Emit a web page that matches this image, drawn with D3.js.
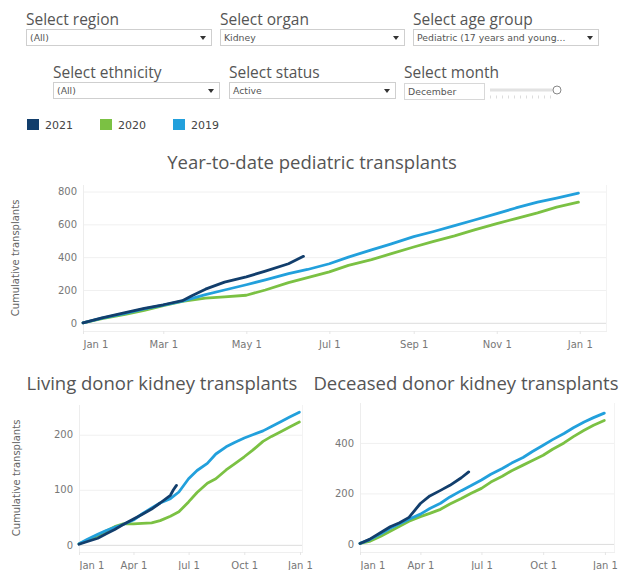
<!DOCTYPE html>
<html>
<head>
<meta charset="utf-8">
<script src="https://cdn.jsdelivr.net/npm/d3@7"></script>
<style>
  body { margin: 0; background: #fff; }
  svg { display: block; }
</style>
</head>
<body>
<svg width="619" height="570"></svg>
<script>
const years = ['2021', '2020', '2019']
const colors = { '2021': '#123e6c', '2020': '#7bc143', '2019': '#22a0dc' }

// [month-day, cumulative count]
const total2021 = [['01-01', 0], ['01-15', 30], ['02-01', 62], ['02-15', 88], ['03-01', 110], ['03-15', 135], ['03-22', 165], ['04-01', 205], ['04-15', 248], ['05-01', 280], ['05-15', 315], ['06-01', 360], ['06-12', 405]]
const total2020 = [['01-01', 0], ['01-15', 25], ['02-01', 52], ['02-15', 75], ['03-01', 105], ['03-15', 130], ['04-01', 150], ['04-15', 158], ['05-01', 168], ['05-15', 200], ['06-01', 245], ['06-15', 275], ['07-01', 310], ['07-15', 350], ['08-01', 385], ['08-15', 420], ['09-01', 462], ['09-15', 495], ['10-01', 530], ['10-15', 565], ['11-01', 605], ['11-15', 635], ['12-01', 670], ['12-15', 705], ['12-31', 735]]
const total2019 = [['01-01', 0], ['01-15', 28], ['02-01', 58], ['02-15', 85], ['03-01', 108], ['03-15', 132], ['04-01', 172], ['04-15', 200], ['05-01', 232], ['05-15', 262], ['06-01', 300], ['06-15', 325], ['07-01', 360], ['07-15', 400], ['08-01', 445], ['08-15', 480], ['09-01', 525], ['09-15', 555], ['10-01', 592], ['10-15', 625], ['11-01', 665], ['11-15', 700], ['12-01', 735], ['12-15', 760], ['12-31', 790]]

const living2021 = [['01-01', 1], ['01-15', 6], ['02-01', 12], ['02-15', 20], ['03-01', 28], ['03-15', 37], ['04-01', 47], ['04-15', 55], ['05-01', 65], ['05-15', 76], ['06-01', 90], ['06-06', 100], ['06-11', 108]]
const living2020 = [['01-01', 2], ['01-15', 8], ['02-01', 17], ['02-15', 25], ['03-01', 33], ['03-15', 38], ['04-01', 38], ['04-15', 39], ['05-01', 40], ['05-15', 44], ['06-01', 52], ['06-15', 60], ['07-01', 78], ['07-15', 95], ['08-01', 112], ['08-15', 120], ['09-01', 136], ['09-15', 147], ['10-01', 160], ['10-15', 172], ['11-01', 188], ['11-15', 197], ['12-01', 206], ['12-15', 214], ['12-31', 223]]
const living2019 = [['01-01', 2], ['01-15', 10], ['02-01', 19], ['02-15', 26], ['03-01', 32], ['03-15', 37], ['04-01', 45], ['04-15', 56], ['05-01', 67], ['05-15', 76], ['06-01', 84], ['06-15', 96], ['07-01', 120], ['07-15', 135], ['08-01', 148], ['08-15', 165], ['09-01', 178], ['09-15', 186], ['10-01', 194], ['10-15', 200], ['11-01', 207], ['11-15', 215], ['12-01', 224], ['12-15', 232], ['12-31', 241]]

const deceased2021 = [['01-01', 2], ['01-15', 18], ['02-01', 45], ['02-15', 68], ['03-01', 84], ['03-15', 105], ['04-01', 160], ['04-15', 190], ['05-01', 212], ['05-15', 232], ['06-01', 262], ['06-12', 285]]
const deceased2020 = [['01-01', 2], ['01-15', 10], ['02-01', 30], ['02-15', 50], ['03-01', 70], ['03-15', 90], ['04-01', 108], ['04-15', 121], ['05-01', 137], ['05-15', 158], ['06-01', 180], ['06-15', 200], ['07-01', 220], ['07-15', 245], ['08-01', 268], ['08-15', 290], ['09-01', 312], ['09-15', 330], ['10-01', 351], ['10-15', 375], ['11-01', 400], ['11-15', 425], ['12-01', 450], ['12-15', 470], ['12-31', 489]]
const deceased2019 = [['01-01', 2], ['01-15', 16], ['02-01', 40], ['02-15', 62], ['03-01', 80], ['03-15', 98], ['04-01', 118], ['04-15', 140], ['05-01', 161], ['05-15', 186], ['06-01', 211], ['06-15', 230], ['07-01', 253], ['07-15', 276], ['08-01', 299], ['08-15', 320], ['09-01', 342], ['09-15', 366], ['10-01', 391], ['10-15', 413], ['11-01', 437], ['11-15', 460], ['12-01', 483], ['12-15', 500], ['12-31', 518]]

const topTicks = ['Jan 1', 'Mar 1', 'May 1', 'Jul 1', 'Sep 1', 'Nov 1', 'Jan 1']
const topTickDates = ['2019-01-01', '2019-03-01', '2019-05-01', '2019-07-01', '2019-09-01', '2019-11-01', '2020-01-01']
const qTicks = ['Jan 1', 'Apr 1', 'Jul 1', 'Oct 1', 'Jan 1']
const qTickDates = ['2019-01-01', '2019-04-01', '2019-07-01', '2019-10-01', '2020-01-01']

const filters = [
  { label: 'Select region', value: '(All)' },
  { label: 'Select organ', value: 'Kidney' },
  { label: 'Select age group', value: 'Pediatric (17 years and young...' },
  { label: 'Select ethnicity', value: '(All)' },
  { label: 'Select status', value: 'Active' }
]

const parse = d3.timeParse('%Y-%m-%d')
const svg = d3.select('svg')
const titleFont = '"Open Sans", sans-serif'
const tickFont = '"DejaVu Sans", sans-serif'

// filter controls (Tableau style)
const boxes = [[26, 20, 185], [220, 20, 184], [413, 20, 185], [53, 73, 166], [229, 73, 166]]
filters.forEach((f, i) => {
  let [x, y, w] = boxes[i]
  let g = svg.append('g').attr('transform', `translate(${x}, ${y})`)
  g.append('text').text(f.label)
    .attr('y', 5).attr('font-family', titleFont).attr('font-size', 15.5).attr('fill', '#555')
  g.append('rect').attr('x', 0.5).attr('y', 9.5).attr('width', w).attr('height', 16)
    .attr('fill', '#fff').attr('stroke', '#cfcfcf')
  g.append('text').text(f.value)
    .attr('x', 4).attr('y', 21).attr('font-family', tickFont).attr('font-size', 9.3).attr('fill', '#555')
  g.append('path').attr('d', `M${w - 11},16 h6 l-3,4 z`).attr('fill', '#333')
})

let month = svg.append('g').attr('transform', 'translate(404, 73)')
month.append('text').text('Select month')
  .attr('y', 5).attr('font-family', titleFont).attr('font-size', 15.5).attr('fill', '#555')
month.append('rect').attr('x', 0.5).attr('y', 10.5).attr('width', 80).attr('height', 16)
  .attr('fill', '#fff').attr('stroke', '#d8d8d8')
month.append('text').text('December')
  .attr('x', 4).attr('y', 22).attr('font-family', tickFont).attr('font-size', 9.3).attr('fill', '#555')
month.append('line').attr('x1', 86).attr('x2', 149).attr('y1', 17).attr('y2', 17)
  .attr('stroke', '#e2e2e2').attr('stroke-width', 3)
month.append('line').attr('x1', 86).attr('x2', 150).attr('y1', 24).attr('y2', 24)
  .attr('stroke', '#ddd').attr('stroke-width', 3).attr('stroke-dasharray', '1,5')
month.append('circle').attr('cx', 153).attr('cy', 17).attr('r', 4)
  .attr('fill', '#fff').attr('stroke', '#888').attr('stroke-width', 1)

// legend
let legend = svg.append('g').selectAll('g').data(years).enter()
  .append('g').attr('transform', (d, i) => `translate(${27 + i * 73}, 119)`)
legend.append('rect').attr('width', 12).attr('height', 11).attr('fill', d => colors[d])
legend.append('text').text(d => d).attr('x', 18).attr('y', 10)
  .attr('font-family', tickFont).attr('font-size', 11).attr('fill', '#444')

function drawChart(opt) {
  let x = d3.scaleTime().domain([parse('2019-01-01'), parse(opt.xEnd)]).range([opt.left, opt.right])
  let y = d3.scaleLinear().domain(opt.yDomain).range([opt.bottom, opt.top])
  let g = svg.append('g')

  g.append('text').text(opt.title)
    .attr('x', opt.titleX).attr('y', opt.titleY).attr('text-anchor', 'middle')
    .attr('font-family', titleFont).attr('font-size', 18.5).attr('fill', '#555')

  // grid
  g.append('g').selectAll('line').data(opt.yTicks).enter().append('line')
    .attr('x1', opt.left).attr('x2', opt.right)
    .attr('y1', d => y(d) + 0.5).attr('y2', d => y(d) + 0.5)
    .attr('stroke', d => d === 0 ? '#dcdcdc' : '#f0f0f0')
  g.append('line').attr('x1', opt.left + 0.5).attr('x2', opt.left + 0.5)
    .attr('y1', opt.top).attr('y2', opt.bottom).attr('stroke', '#ededed')
  g.append('line').attr('x1', opt.right - 0.5).attr('x2', opt.right - 0.5)
    .attr('y1', opt.top).attr('y2', opt.bottom).attr('stroke', '#f3f3f3')
  g.append('line').attr('x1', opt.left).attr('x2', opt.right)
    .attr('y1', opt.bottom + 0.5).attr('y2', opt.bottom + 0.5).attr('stroke', '#efefef')

  // y axis
  let yAxis = d3.axisLeft(y).tickValues(opt.yTicks).tickSize(0).tickPadding(0)
  g.append('g').attr('transform', `translate(${opt.left - 6}, 0)`).call(yAxis)
    .call(a => a.select('.domain').remove())
    .selectAll('text').attr('font-family', tickFont).attr('font-size', 10).attr('fill', '#777')

  // x axis
  let dates = opt.tickDates.map(parse)
  let xAxis = d3.axisBottom(x).tickValues(dates).tickSize(3).tickFormat((d, i) => opt.ticks[i])
  let xa = g.append('g').attr('transform', `translate(0, ${opt.bottom})`).call(xAxis)
  xa.select('.domain').remove()
  xa.selectAll('line').attr('stroke', '#e6e6e6')
  xa.selectAll('text').attr('font-family', tickFont).attr('font-size', 10).attr('fill', '#777')
    .attr('y', opt.labelDy).attr('dy', 0)
    .attr('text-anchor', (d, i) => i === 0 ? 'start' : 'middle')

  if (opt.yTitle) {
    g.append('text').text('Cumulative transplants')
      .attr('transform', `translate(${opt.yTitleX}, ${opt.yTitleY}) rotate(-90)`)
      .attr('text-anchor', 'middle').attr('font-family', tickFont).attr('font-size', 10).attr('fill', '#666')
  }

  let line = d3.line()
    .x(d => x(parse('2019-' + d[0])))
    .y(d => y(d[1]))

  opt.series.forEach(s => {
    g.append('path').datum(s.data)
      .attr('d', line).attr('fill', 'none')
      .attr('stroke', colors[s.year]).attr('stroke-width', 2.8)
      .attr('stroke-linejoin', 'round').attr('stroke-linecap', 'round')
  })
}

drawChart({
  title: 'Year-to-date pediatric transplants', titleX: 312, titleY: 169,
  left: 83, right: 607, top: 185, bottom: 331, xEnd: '2020-01-21',
  yDomain: [-50, 840], yTicks: [0, 200, 400, 600, 800],
  ticks: topTicks, tickDates: topTickDates, labelDy: 17,
  yTitle: true, yTitleX: 19, yTitleY: 258,
  series: [{ year: '2020', data: total2020 }, { year: '2019', data: total2019 }, { year: '2021', data: total2021 }]
})

drawChart({
  title: 'Living donor kidney transplants', titleX: 162, titleY: 390,
  left: 79, right: 303, top: 405, bottom: 552, xEnd: '2020-01-06',
  yDomain: [-13, 254], yTicks: [0, 100, 200],
  ticks: qTicks, tickDates: qTickDates, labelDy: 17,
  yTitle: true, yTitleX: 20, yTitleY: 478,
  series: [{ year: '2020', data: living2020 }, { year: '2019', data: living2019 }, { year: '2021', data: living2021 }]
})

drawChart({
  title: 'Deceased donor kidney transplants', titleX: 466, titleY: 390,
  left: 360, right: 615, top: 403, bottom: 552, xEnd: '2020-01-16',
  yDomain: [-32, 558], yTicks: [0, 200, 400],
  ticks: qTicks, tickDates: qTickDates, labelDy: 17,
  yTitle: false,
  series: [{ year: '2020', data: deceased2020 }, { year: '2019', data: deceased2019 }, { year: '2021', data: deceased2021 }]
})
</script>
</body>
</html>
